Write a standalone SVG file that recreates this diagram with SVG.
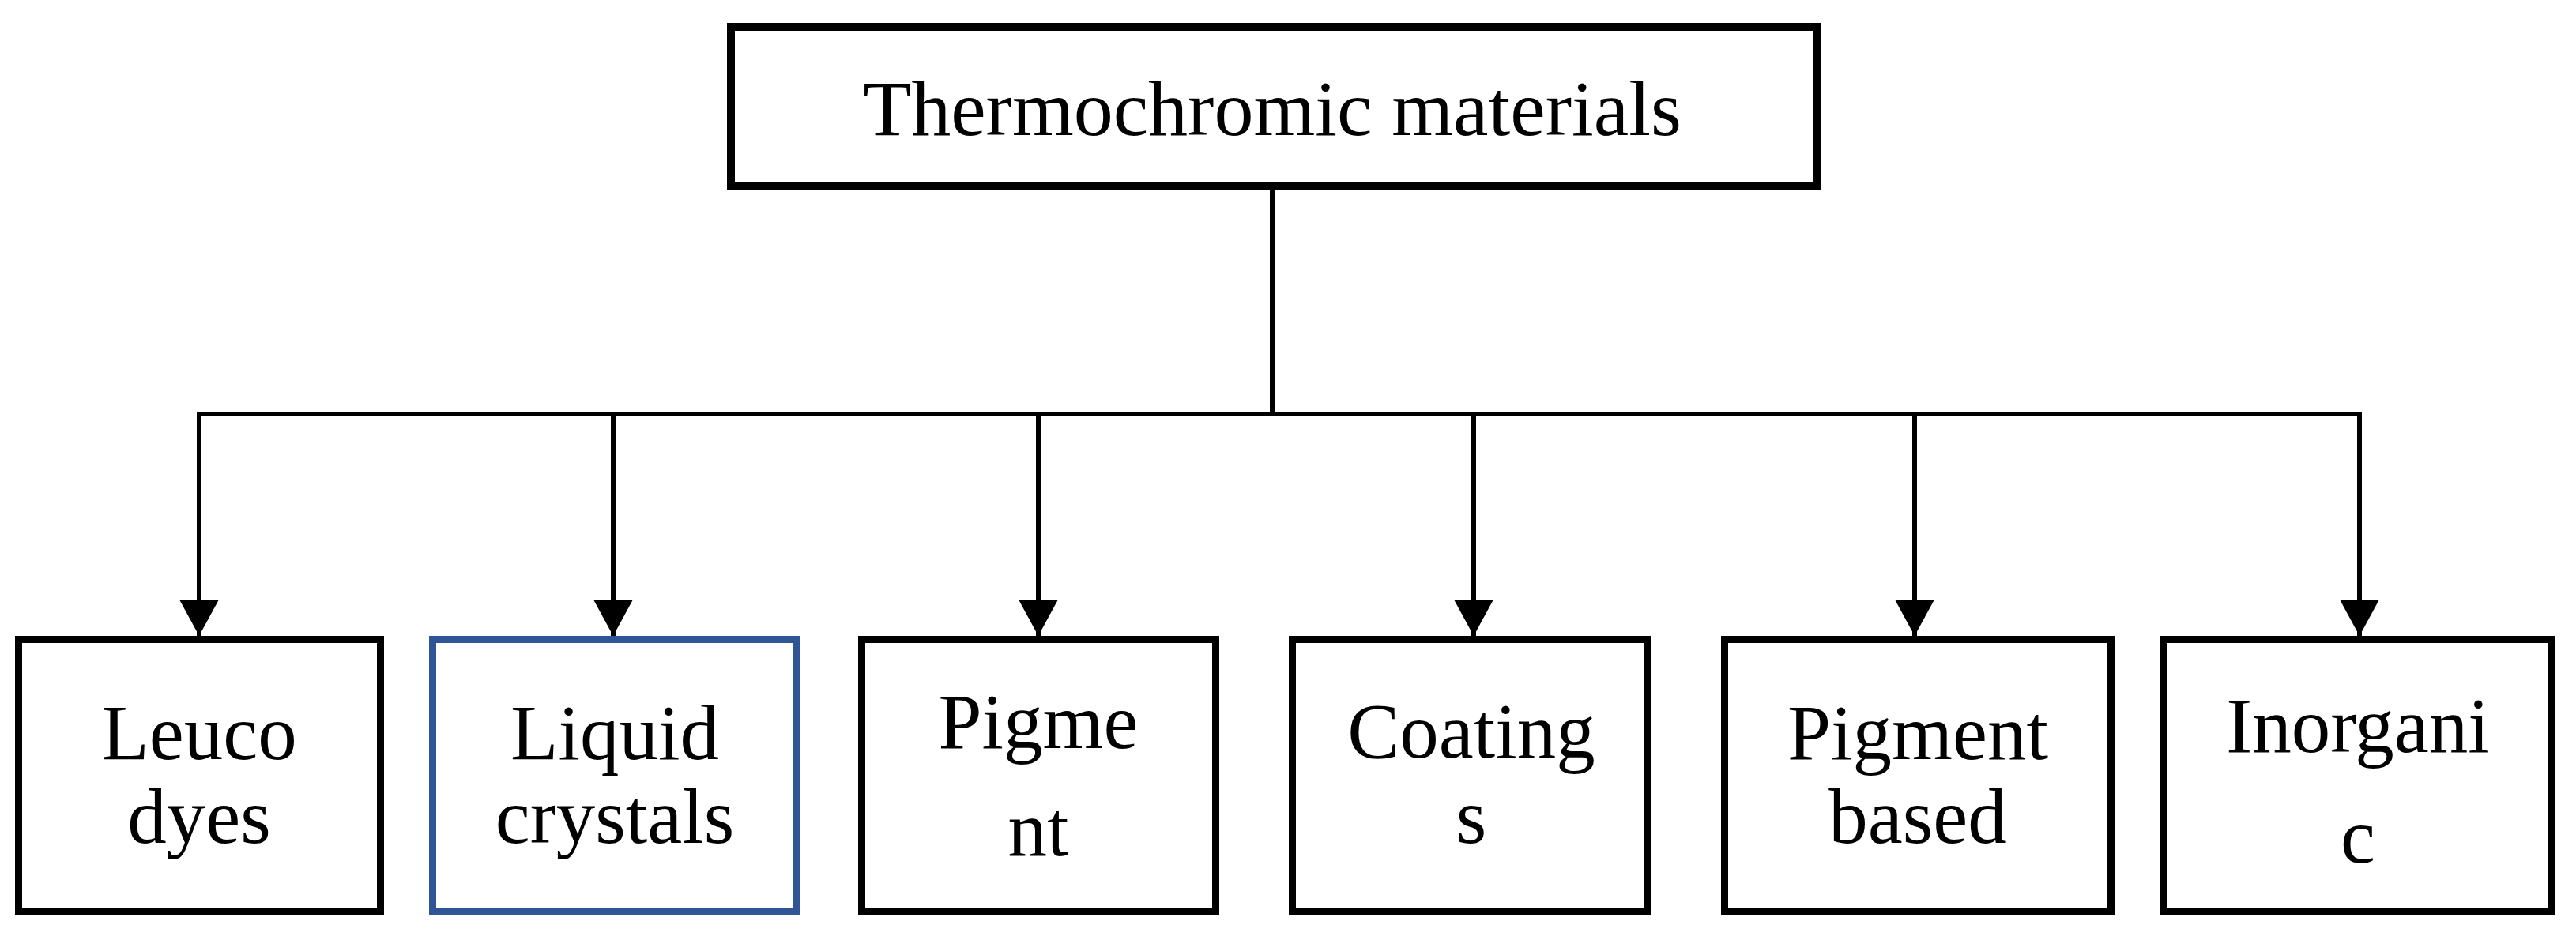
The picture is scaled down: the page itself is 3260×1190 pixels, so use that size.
<svg xmlns="http://www.w3.org/2000/svg" width="3260" height="1190" viewBox="0 0 3260 1190">
<style>
.box{fill:#fff;stroke:#000;stroke-width:9}
.blue{fill:#fff;stroke:#2F5597;stroke-width:9}
.top{fill:#fff;stroke:#000;stroke-width:10}
.t{font-family:"Liberation Serif","Times New Roman",serif;font-size:99px;fill:#000;text-anchor:middle}
.tt{font-family:"Liberation Serif","Times New Roman",serif;font-size:100px;fill:#000;text-anchor:middle}
.ln{fill:none;stroke:#000;stroke-width:6}
</style>
<defs>
<marker id="ah" markerUnits="userSpaceOnUse" markerWidth="46" markerHeight="50" refX="46" refY="25" orient="auto" viewBox="0 0 46 50">
<path d="M0,0 L46,25 L0,50 Z" fill="#000"/>
</marker>
</defs>
<g id="connectors">
<line class="ln" x1="1610" y1="240" x2="1610" y2="524"/>
<line class="ln" x1="249" y1="524" x2="2989" y2="524"/>
<line class="ln" x1="252" y1="521" x2="252" y2="805" marker-end="url(#ah)"/>
<line class="ln" x1="776" y1="524" x2="776" y2="805" marker-end="url(#ah)"/>
<line class="ln" x1="1314" y1="524" x2="1314" y2="805" marker-end="url(#ah)"/>
<line class="ln" x1="1865" y1="524" x2="1865" y2="805" marker-end="url(#ah)"/>
<line class="ln" x1="2423" y1="524" x2="2423" y2="805" marker-end="url(#ah)"/>
<line class="ln" x1="2986" y1="521" x2="2986" y2="805" marker-end="url(#ah)"/>
</g>
<g id="node-root">
<rect class="top" x="925" y="34" width="1375" height="201"/>
<text class="tt" x="1610" y="171">Thermochromic materials</text>
</g>
<g id="node-leuco">
<rect class="box" x="23.5" y="809.5" width="458" height="344"/>
<text class="t" x="252" y="961">Leuco</text>
<text class="t" x="252" y="1067">dyes</text>
</g>
<g id="node-liquid">
<rect class="blue" x="547.5" y="809.5" width="460" height="344"/>
<text class="t" x="778" y="961">Liquid</text>
<text class="t" x="778" y="1067">crystals</text>
</g>
<g id="node-pigment">
<rect class="box" x="1090.5" y="809.5" width="448" height="344"/>
<text class="t" x="1314" y="947">Pigme</text>
<text class="t" x="1314" y="1083">nt</text>
</g>
<g id="node-coatings">
<rect class="box" x="1635.5" y="809.5" width="450" height="344"/>
<text class="t" x="1862" y="959">Coating</text>
<text class="t" x="1862" y="1067">s</text>
</g>
<g id="node-pigment-based">
<rect class="box" x="2182.5" y="809.5" width="489" height="344"/>
<text class="t" x="2427" y="961">Pigment</text>
<text class="t" x="2427" y="1067">based</text>
</g>
<g id="node-inorganic">
<rect class="box" x="2738.5" y="809.5" width="491" height="344"/>
<text class="t" x="2984" y="952">Inorgani</text>
<text class="t" x="2984" y="1092">c</text>
</g>
</svg>
